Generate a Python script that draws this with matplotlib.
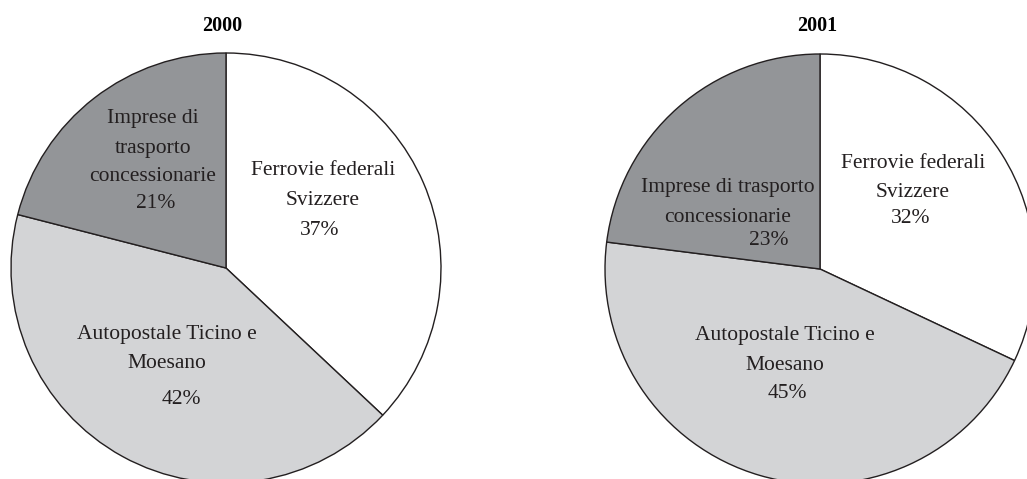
import matplotlib.pyplot as plt

# Data
years = ["2000", "2001"]
categories = ["Ferrovie federali Svizzere", "Autopostale Ticino e Moesano",
              "Imprese di trasporto concessionarie"]
shares_2000 = [37, 42, 21]
shares_2001 = [32, 45, 23]

# label lines per pie (line breaks as in the original)
labels_2000 = [["Ferrovie federali", "Svizzere"],
               ["Autopostale Ticino e", "Moesano"],
               ["Imprese di", "trasporto", "concessionarie"]]
labels_2001 = [["Ferrovie federali", "Svizzere"],
               ["Autopostale Ticino e", "Moesano"],
               ["Imprese di trasporto", "concessionarie"]]

colors = ["#ffffff", "#d3d4d6", "#939598"]
edge = "#231f20"
font = "Liberation Serif"

W, H = 1027, 479
fig = plt.figure(figsize=(W / 100, H / 100), dpi=100)
R = 215  # pie radius in pixels

# pixel positions: pie centres, title centres, label x / baselines, percent x / baseline
centres = [(226, 268), (820, 269)]
title_x = [222, 817]
label_x = [[323, 167, 153], [913, 785, 728]]
label_y = [[[175, 205], [339, 368], [123, 153, 181]],
           [[168, 197], [340, 370], [192, 222]]]
pct_x = [[320, 181, 156], [911, 787, 769]]
pct_y = [[235, 404, 208], [223, 398, 245]]

for i, (year, shares, labels) in enumerate(zip(years, [shares_2000, shares_2001],
                                               [labels_2000, labels_2001])):
    cx, cy = centres[i]
    ax = fig.add_axes([(cx - R) / W, (H - cy - R) / H, 2 * R / W, 2 * R / H])
    ax.pie(shares, colors=colors, startangle=90, counterclock=False, radius=1,
           wedgeprops=dict(edgecolor=edge, linewidth=1.0))
    ax.set_xlim(-1, 1)
    ax.set_ylim(-1, 1)
    ax.set_aspect("equal")
    ax.axis("off")

    for j in range(3):
        for line, y in zip(labels[j], label_y[i][j]):
            fig.text(label_x[i][j] / W, 1 - y / H, line, ha="center", va="baseline",
                     fontsize=15.5, family=font, color="#231f20")
        fig.text(pct_x[i][j] / W, 1 - pct_y[i][j] / H, f"{shares[j]}%", ha="center",
                 va="baseline", fontsize=15.5, family=font, color="#231f20")

    fig.text(title_x[i] / W, 1 - 31 / H, year, ha="center", va="baseline",
             fontsize=14.5, family=font, fontweight="bold")

fig.savefig("out.png", dpi=100)
